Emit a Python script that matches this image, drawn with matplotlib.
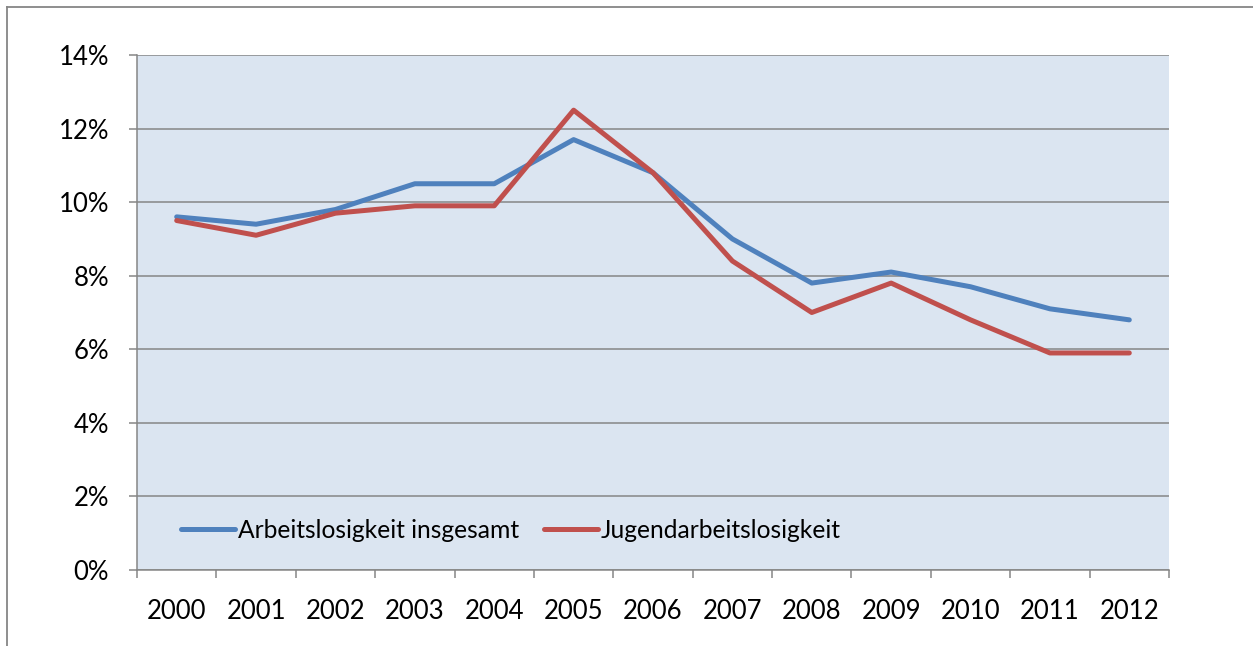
import matplotlib
matplotlib.use("Agg")
import matplotlib.pyplot as plt
from matplotlib.lines import Line2D
from matplotlib.ticker import FuncFormatter

years = ["2000", "2001", "2002", "2003", "2004", "2005", "2006",
         "2007", "2008", "2009", "2010", "2011", "2012"]
gesamt = [9.6, 9.4, 9.8, 10.5, 10.5, 11.7, 10.8, 9.0, 7.8, 8.1, 7.7, 7.1, 6.8]
jugend = [9.5, 9.1, 9.7, 9.9, 9.9, 12.5, 10.8, 8.4, 7.0, 7.8, 6.8, 5.9, 5.9]
series_names = ["Arbeitslosigkeit insgesamt", "Jugendarbeitslosigkeit"]
yticks = [0, 2, 4, 6, 8, 10, 12, 14]

plt.rcParams['font.family'] = ['Lato', 'DejaVu Sans']

W, H = 1253, 646
fig = plt.figure(figsize=(W / 100, H / 100), dpi=100)
ax = fig.add_axes([137 / W, 1 - 570 / H, (1169 - 137) / W, (570 - 55) / H])
ax.set_facecolor("#DBE5F1")

x = list(range(len(years)))
ax.plot(x, gesamt, color="#4F81BD", lw=3.6, label=series_names[0], solid_capstyle="round")
ax.plot(x, jugend, color="#C0504D", lw=3.6, label=series_names[1], solid_capstyle="round")

ax.set_xlim(-0.5, len(years) - 0.5)
ax.set_ylim(0, 14)
ax.set_yticks(yticks)
ax.yaxis.set_major_formatter(FuncFormatter(lambda v, p: f"{int(v)}%"))
ax.grid(axis="y", color="#868686", lw=1.1)
ax.set_axisbelow(True)

ax.set_xticks(x)
ax.set_xticklabels(years)
ax.set_xticks([i - 0.5 for i in range(len(years) + 1)], minor=True)
ax.tick_params(axis="x", which="major", length=0, pad=21, labelsize=18.5)
ax.tick_params(axis="x", which="minor", length=6, color="#868686", width=1.1)
ax.tick_params(axis="y", length=6, color="#868686", width=1.1, pad=14, labelsize=18.5)

for s in ["top", "right"]:
    ax.spines[s].set_visible(False)
for s in ["left", "bottom"]:
    ax.spines[s].set_color("#868686")
    ax.spines[s].set_linewidth(1.1)

leg = ax.legend(loc="center left", bbox_to_anchor=((181 - 137) / 1032, (570 - 530) / (570 - 55)),
                ncol=2, frameon=False, fontsize=17.7, handlelength=2.2,
                handletextpad=0.12, columnspacing=1.0, borderaxespad=0, borderpad=0)

# outer frame (partially visible)
fig.add_artist(Line2D([7 / W, 7 / W], [0, 1 - 7 / H], transform=fig.transFigure,
                      color="#868686", lw=1.3))
fig.add_artist(Line2D([7 / W, 1], [1 - 7 / H, 1 - 7 / H], transform=fig.transFigure,
                      color="#868686", lw=1.3))

fig.savefig("out.png", dpi=100)
